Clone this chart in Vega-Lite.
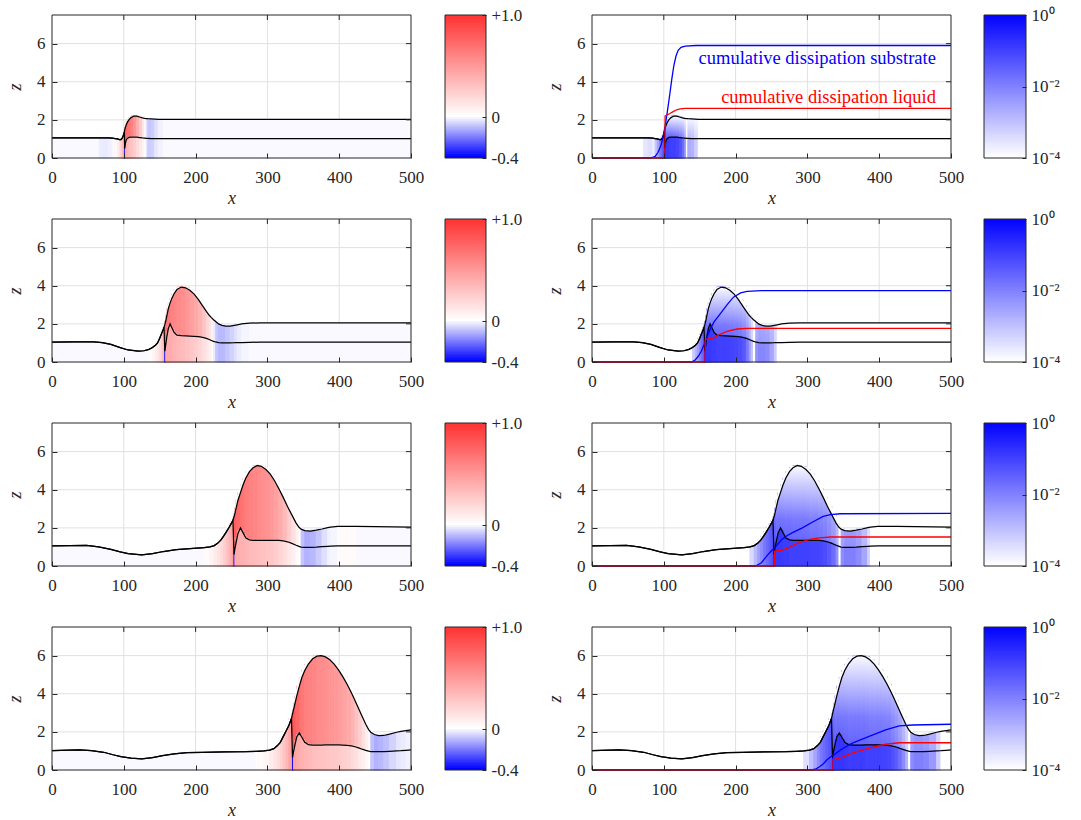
{
  "$schema": "https://vega.github.io/schema/vega-lite/v6.json",
  "background": "white",
  "padding": {"left": 6, "top": 6, "right": 5, "bottom": 5},
  "config": {
    "view": {"stroke": null},
    "axis": {"labelFont": "Liberation Serif", "labelFontSize": 17, "labelColor": "#262626", "titleFont": "Liberation Serif", "titleFontSize": 18, "titleFontStyle": "italic", "titleFontWeight": "normal", "titleColor": "#262626", "tickColor": "#262626", "grid": false, "domain": false},
    "axisBottom": {"tickSize": -5, "labelPadding": 16, "titlePadding": 4, "labelFlush": false},
    "axisLeft": {"tickSize": -5, "labelPadding": 12, "titlePadding": 12},
    "axisRight": {"tickSize": -4, "labelPadding": 9},
    "text": {"font": "Liberation Serif"}
  },
  "datasets": {
    "gx": [{"g": 100}, {"g": 200}, {"g": 300}, {"g": 400}],
    "gz": [{"g": 2}, {"g": 4}, {"g": 6}],
    "cbL": [{"c":-0.4},{"c":-0.38},{"c":-0.36},{"c":-0.34},{"c":-0.32},{"c":-0.3},{"c":-0.28},{"c":-0.26},{"c":-0.24},{"c":-0.22},{"c":-0.2},{"c":-0.18},{"c":-0.16},{"c":-0.14},{"c":-0.12},{"c":-0.1},{"c":-0.08},{"c":-0.06},{"c":-0.04},{"c":-0.02},{"c":0},{"c":0.02},{"c":0.04},{"c":0.06},{"c":0.08},{"c":0.1},{"c":0.12},{"c":0.14},{"c":0.16},{"c":0.18},{"c":0.2},{"c":0.22},{"c":0.24},{"c":0.26},{"c":0.28},{"c":0.3},{"c":0.32},{"c":0.34},{"c":0.36},{"c":0.38},{"c":0.4},{"c":0.42},{"c":0.44},{"c":0.46},{"c":0.48},{"c":0.5},{"c":0.52},{"c":0.54},{"c":0.56},{"c":0.58},{"c":0.6},{"c":0.62},{"c":0.64},{"c":0.66},{"c":0.68},{"c":0.7},{"c":0.72},{"c":0.74},{"c":0.76},{"c":0.78},{"c":0.8},{"c":0.82},{"c":0.84},{"c":0.86},{"c":0.88},{"c":0.9},{"c":0.92},{"c":0.94},{"c":0.96},{"c":0.98},{"c":1}],
    "cbR": [{"c":-4},{"c":-3.95},{"c":-3.9},{"c":-3.85},{"c":-3.8},{"c":-3.75},{"c":-3.7},{"c":-3.65},{"c":-3.6},{"c":-3.55},{"c":-3.5},{"c":-3.45},{"c":-3.4},{"c":-3.35},{"c":-3.3},{"c":-3.25},{"c":-3.2},{"c":-3.15},{"c":-3.1},{"c":-3.05},{"c":-3},{"c":-2.95},{"c":-2.9},{"c":-2.85},{"c":-2.8},{"c":-2.75},{"c":-2.7},{"c":-2.65},{"c":-2.6},{"c":-2.55},{"c":-2.5},{"c":-2.45},{"c":-2.4},{"c":-2.35},{"c":-2.3},{"c":-2.25},{"c":-2.2},{"c":-2.15},{"c":-2.1},{"c":-2.05},{"c":-2},{"c":-1.95},{"c":-1.9},{"c":-1.85},{"c":-1.8},{"c":-1.75},{"c":-1.7},{"c":-1.65},{"c":-1.6},{"c":-1.55},{"c":-1.5},{"c":-1.45},{"c":-1.4},{"c":-1.35},{"c":-1.3},{"c":-1.25},{"c":-1.2},{"c":-1.15},{"c":-1.1},{"c":-1.05},{"c":-1},{"c":-0.95},{"c":-0.9},{"c":-0.85},{"c":-0.8},{"c":-0.75},{"c":-0.7},{"c":-0.65},{"c":-0.6},{"c":-0.55},{"c":-0.5},{"c":-0.45},{"c":-0.4},{"c":-0.35},{"c":-0.3},{"c":-0.25},{"c":-0.2},{"c":-0.15},{"c":-0.1},{"c":-0.05},{"c":0}],
    "ann": [
      {"x": 479, "z": 5.22, "k": "s", "t": "cumulative dissipation substrate"},
      {"x": 479, "z": 3.22, "k": "l", "t": "cumulative dissipation liquid"}
    ],
    "cum": [
      {"s":1,"k":"s","x":0,"v":0},{"s":1,"k":"s","x":82,"v":0},{"s":1,"k":"s","x":88,"v":0.08},{"s":1,"k":"s","x":92,"v":0.3},{"s":1,"k":"s","x":96,"v":0.65},{"s":1,"k":"s","x":99,"v":1.1},{"s":1,"k":"s","x":102,"v":1.7},{"s":1,"k":"s","x":105,"v":2.45},{"s":1,"k":"s","x":108,"v":3.25},{"s":1,"k":"s","x":111,"v":4.1},{"s":1,"k":"s","x":114,"v":4.85},{"s":1,"k":"s","x":117,"v":5.35},{"s":1,"k":"s","x":120,"v":5.65},{"s":1,"k":"s","x":124,"v":5.8},{"s":1,"k":"s","x":130,"v":5.87},{"s":1,"k":"s","x":145,"v":5.9},{"s":1,"k":"s","x":500,"v":5.9},
      {"s":1,"k":"l","x":0,"v":0},{"s":1,"k":"l","x":101.6,"v":0},{"s":1,"k":"l","x":101.8,"v":2.2},{"s":1,"k":"l","x":104,"v":2.25},{"s":1,"k":"l","x":108,"v":2.32},{"s":1,"k":"l","x":113,"v":2.43},{"s":1,"k":"l","x":118,"v":2.53},{"s":1,"k":"l","x":123,"v":2.58},{"s":1,"k":"l","x":130,"v":2.6},{"s":1,"k":"l","x":500,"v":2.6},
      {"s":2,"k":"s","x":0,"v":0},{"s":2,"k":"s","x":139,"v":0},{"s":2,"k":"s","x":144,"v":0.12},{"s":2,"k":"s","x":148,"v":0.3},{"s":2,"k":"s","x":152,"v":0.55},{"s":2,"k":"s","x":156,"v":0.9},{"s":2,"k":"s","x":160,"v":1.3},{"s":2,"k":"s","x":165,"v":1.75},{"s":2,"k":"s","x":170,"v":2.1},{"s":2,"k":"s","x":178,"v":2.5},{"s":2,"k":"s","x":188,"v":3.0},{"s":2,"k":"s","x":197,"v":3.4},{"s":2,"k":"s","x":207,"v":3.62},{"s":2,"k":"s","x":216,"v":3.7},{"s":2,"k":"s","x":236,"v":3.74},{"s":2,"k":"s","x":500,"v":3.74},
      {"s":2,"k":"l","x":0,"v":0},{"s":2,"k":"l","x":157.5,"v":0},{"s":2,"k":"l","x":157.7,"v":1.18},{"s":2,"k":"l","x":160,"v":1.2},{"s":2,"k":"l","x":165,"v":1.22},{"s":2,"k":"l","x":170,"v":1.28},{"s":2,"k":"l","x":178,"v":1.44},{"s":2,"k":"l","x":188,"v":1.6},{"s":2,"k":"l","x":202,"v":1.73},{"s":2,"k":"l","x":216,"v":1.76},{"s":2,"k":"l","x":500,"v":1.76},
      {"s":3,"k":"s","x":0,"v":0},{"s":3,"k":"s","x":228,"v":0},{"s":3,"k":"s","x":236,"v":0.17},{"s":3,"k":"s","x":245,"v":0.6},{"s":3,"k":"s","x":250,"v":0.8},{"s":3,"k":"s","x":255,"v":0.98},{"s":3,"k":"s","x":264,"v":1.38},{"s":3,"k":"s","x":272,"v":1.6},{"s":3,"k":"s","x":280,"v":1.76},{"s":3,"k":"s","x":293,"v":2.0},{"s":3,"k":"s","x":308,"v":2.32},{"s":3,"k":"s","x":322,"v":2.6},{"s":3,"k":"s","x":332,"v":2.7},{"s":3,"k":"s","x":346,"v":2.74},{"s":3,"k":"s","x":500,"v":2.76},
      {"s":3,"k":"l","x":0,"v":0},{"s":3,"k":"l","x":253.8,"v":0},{"s":3,"k":"l","x":254,"v":0.78},{"s":3,"k":"l","x":264,"v":0.82},{"s":3,"k":"l","x":274,"v":0.96},{"s":3,"k":"l","x":288,"v":1.22},{"s":3,"k":"l","x":303,"v":1.4},{"s":3,"k":"l","x":317,"v":1.48},{"s":3,"k":"l","x":332,"v":1.52},{"s":3,"k":"l","x":500,"v":1.52},
      {"s":4,"k":"s","x":0,"v":0},{"s":4,"k":"s","x":306,"v":0},{"s":4,"k":"s","x":312,"v":0.06},{"s":4,"k":"s","x":317,"v":0.17},{"s":4,"k":"s","x":322,"v":0.32},{"s":4,"k":"s","x":327,"v":0.52},{"s":4,"k":"s","x":332,"v":0.68},{"s":4,"k":"s","x":337,"v":0.8},{"s":4,"k":"s","x":346,"v":1.05},{"s":4,"k":"s","x":361,"v":1.38},{"s":4,"k":"s","x":385,"v":1.75},{"s":4,"k":"s","x":409,"v":2.1},{"s":4,"k":"s","x":428,"v":2.31},{"s":4,"k":"s","x":447,"v":2.36},{"s":4,"k":"s","x":500,"v":2.4},
      {"s":4,"k":"l","x":0,"v":0},{"s":4,"k":"l","x":335.5,"v":0},{"s":4,"k":"l","x":335.7,"v":0.55},{"s":4,"k":"l","x":342,"v":0.6},{"s":4,"k":"l","x":351,"v":0.7},{"s":4,"k":"l","x":361,"v":0.87},{"s":4,"k":"l","x":385,"v":1.14},{"s":4,"k":"l","x":409,"v":1.35},{"s":4,"k":"l","x":428,"v":1.43},{"s":4,"k":"l","x":500,"v":1.43}
    ],
    "prof": [
      {"s":1,"x":0,"h":1.05,"b":1.05,"L":-0.01,"Ls":-0.01,"R":-5,"Rs":-5},
      {"s":1,"x":66,"h":1.05,"b":1.05,"L":-0.03,"Ls":-0.03,"R":-5,"Rs":-5},
      {"s":1,"x":72,"h":1.05,"b":1.05,"L":-0.035,"Ls":-0.035,"R":-3.6,"Rs":-3.6},
      {"s":1,"x":78,"h":1.05,"b":1.05,"L":-0.025,"Ls":-0.025,"R":-3.5,"Rs":-3.5},
      {"s":1,"x":84,"h":1.04,"b":1.04,"L":-0.01,"Ls":-0.01,"R":-3.7,"Rs":-3.7},
      {"s":1,"x":88,"h":1.02,"b":1.02,"L":0.03,"Ls":0.03,"R":-3.1,"Rs":-3.1},
      {"s":1,"x":91,"h":1.0,"b":1.0,"L":0.08,"Ls":0.08,"R":-2.6,"Rs":-2.6},
      {"s":1,"x":94,"h":0.97,"b":0.97,"L":0.15,"Ls":0.15,"R":-2.1,"Rs":-2.1},
      {"s":1,"x":96,"h":0.97,"b":0.97,"L":0.22,"Ls":0.22,"R":-1.8,"Rs":-1.8},
      {"s":1,"x":98,"h":1.05,"b":1.05,"L":0.3,"Ls":0.3,"R":-1.5,"Rs":-1.5},
      {"s":1,"x":99.5,"h":1.2,"b":1.2,"L":0.4,"Ls":0.4,"R":-1.3,"Rs":-1.3},
      {"s":1,"x":100.7,"h":1.36,"b":1.36,"L":0.5,"Ls":0.45,"R":-1.1,"Rs":-1.1},
      {"s":1,"x":101.3,"h":1.47,"b":0.5,"L":0.7,"Ls":-0.4,"R":-1.0,"Rs":-0.2},
      {"s":1,"x":102.3,"h":1.62,"b":0.78,"L":0.75,"Ls":0.4,"R":-1.1,"Rs":-0.8},
      {"s":1,"x":103.5,"h":1.75,"b":0.96,"L":0.72,"Ls":0.38,"R":-1.1,"Rs":-0.9},
      {"s":1,"x":105,"h":1.88,"b":1.03,"L":0.7,"Ls":0.35,"R":-1.15,"Rs":-0.9},
      {"s":1,"x":107,"h":2.0,"b":1.08,"L":0.66,"Ls":0.32,"R":-1.2,"Rs":-0.95},
      {"s":1,"x":110,"h":2.12,"b":1.1,"L":0.6,"Ls":0.28,"R":-1.2,"Rs":-1.0},
      {"s":1,"x":114,"h":2.2,"b":1.1,"L":0.5,"Ls":0.23,"R":-1.3,"Rs":-1.0},
      {"s":1,"x":118,"h":2.19,"b":1.09,"L":0.38,"Ls":0.17,"R":-1.4,"Rs":-1.1},
      {"s":1,"x":122,"h":2.15,"b":1.07,"L":0.25,"Ls":0.11,"R":-1.6,"Rs":-1.3},
      {"s":1,"x":126,"h":2.1,"b":1.05,"L":0.12,"Ls":0.06,"R":-1.9,"Rs":-1.7},
      {"s":1,"x":129,"h":2.08,"b":1.04,"L":0.04,"Ls":0.02,"R":-2.5,"Rs":-2.3},
      {"s":1,"x":131.5,"h":2.07,"b":1.03,"L":-0.05,"Ls":-0.04,"R":-5,"Rs":-5},
      {"s":1,"x":133.5,"h":2.06,"b":1.03,"L":-0.09,"Ls":-0.08,"R":-2.8,"Rs":-2.7},
      {"s":1,"x":138,"h":2.05,"b":1.02,"L":-0.08,"Ls":-0.07,"R":-2.9,"Rs":-2.8},
      {"s":1,"x":143,"h":2.04,"b":1.02,"L":-0.05,"Ls":-0.04,"R":-3.3,"Rs":-3.2},
      {"s":1,"x":148,"h":2.03,"b":1.02,"L":-0.02,"Ls":-0.02,"R":-5,"Rs":-5},
      {"s":1,"x":155,"h":2.02,"b":1.02,"L":-0.01,"Ls":-0.01,"R":-5,"Rs":-5},
      {"s":1,"x":500,"h":2.02,"b":1.02,"L":-0.01,"Ls":-0.01,"R":-5,"Rs":-5},

      {"s":2,"x":0,"h":1.04,"b":1.04,"L":-0.01,"Ls":-0.01,"R":-5,"Rs":-5},
      {"s":2,"x":30,"h":1.05,"b":1.05,"L":-0.01,"Ls":-0.01,"R":-5,"Rs":-5},
      {"s":2,"x":58,"h":1.06,"b":1.06,"L":-0.01,"Ls":-0.01,"R":-5,"Rs":-5},
      {"s":2,"x":70,"h":1.02,"b":1.02,"L":-0.01,"Ls":-0.01,"R":-5,"Rs":-5},
      {"s":2,"x":82,"h":0.92,"b":0.92,"L":-0.01,"Ls":-0.01,"R":-5,"Rs":-5},
      {"s":2,"x":95,"h":0.75,"b":0.75,"L":-0.01,"Ls":-0.01,"R":-5,"Rs":-5},
      {"s":2,"x":106,"h":0.63,"b":0.63,"L":-0.01,"Ls":-0.01,"R":-5,"Rs":-5},
      {"s":2,"x":120,"h":0.57,"b":0.57,"L":-0.01,"Ls":-0.01,"R":-5,"Rs":-5},
      {"s":2,"x":128,"h":0.59,"b":0.59,"L":-0.01,"Ls":-0.01,"R":-5,"Rs":-5},
      {"s":2,"x":135,"h":0.66,"b":0.66,"L":0.02,"Ls":0.02,"R":-5,"Rs":-5},
      {"s":2,"x":140,"h":0.76,"b":0.76,"L":0.05,"Ls":0.05,"R":-3.2,"Rs":-3.2},
      {"s":2,"x":144,"h":0.88,"b":0.88,"L":0.09,"Ls":0.09,"R":-2.8,"Rs":-2.8},
      {"s":2,"x":147,"h":1.0,"b":1.0,"L":0.13,"Ls":0.13,"R":-2.5,"Rs":-2.5},
      {"s":2,"x":150,"h":1.25,"b":1.25,"L":0.18,"Ls":0.18,"R":-2.1,"Rs":-2.1},
      {"s":2,"x":152.5,"h":1.48,"b":1.48,"L":0.24,"Ls":0.24,"R":-1.8,"Rs":-1.8},
      {"s":2,"x":154.5,"h":1.66,"b":1.66,"L":0.3,"Ls":0.3,"R":-1.6,"Rs":-1.6},
      {"s":2,"x":156,"h":1.82,"b":1.82,"L":0.36,"Ls":0.36,"R":-1.4,"Rs":-1.4},
      {"s":2,"x":157.2,"h":1.97,"b":0.57,"L":0.7,"Ls":-0.4,"R":-1.0,"Rs":-0.2},
      {"s":2,"x":158.4,"h":2.15,"b":0.9,"L":0.68,"Ls":0.4,"R":-1.2,"Rs":-0.8},
      {"s":2,"x":160,"h":2.45,"b":1.35,"L":0.66,"Ls":0.4,"R":-1.3,"Rs":-0.9},
      {"s":2,"x":162,"h":2.8,"b":1.75,"L":0.64,"Ls":0.4,"R":-1.3,"Rs":-0.9},
      {"s":2,"x":164.5,"h":3.1,"b":2.0,"L":0.62,"Ls":0.4,"R":-1.3,"Rs":-0.9},
      {"s":2,"x":167,"h":3.35,"b":1.8,"L":0.6,"Ls":0.38,"R":-1.3,"Rs":-0.95},
      {"s":2,"x":170,"h":3.58,"b":1.55,"L":0.58,"Ls":0.36,"R":-1.3,"Rs":-0.95},
      {"s":2,"x":174,"h":3.8,"b":1.41,"L":0.56,"Ls":0.34,"R":-1.35,"Rs":-1.0},
      {"s":2,"x":180,"h":3.93,"b":1.38,"L":0.54,"Ls":0.32,"R":-1.35,"Rs":-1.0},
      {"s":2,"x":186,"h":3.89,"b":1.37,"L":0.5,"Ls":0.3,"R":-1.4,"Rs":-1.0},
      {"s":2,"x":192,"h":3.76,"b":1.36,"L":0.46,"Ls":0.27,"R":-1.45,"Rs":-1.05},
      {"s":2,"x":198,"h":3.56,"b":1.35,"L":0.42,"Ls":0.24,"R":-1.5,"Rs":-1.1},
      {"s":2,"x":204,"h":3.27,"b":1.33,"L":0.36,"Ls":0.2,"R":-1.6,"Rs":-1.2},
      {"s":2,"x":210,"h":2.93,"b":1.29,"L":0.28,"Ls":0.15,"R":-1.8,"Rs":-1.4},
      {"s":2,"x":215,"h":2.65,"b":1.24,"L":0.2,"Ls":0.11,"R":-2.2,"Rs":-1.9},
      {"s":2,"x":219,"h":2.45,"b":1.18,"L":0.13,"Ls":0.07,"R":-2.7,"Rs":-2.5},
      {"s":2,"x":222,"h":2.33,"b":1.13,"L":0.06,"Ls":0.03,"R":-3.3,"Rs":-3.1},
      {"s":2,"x":225,"h":2.22,"b":1.08,"L":-0.03,"Ls":-0.03,"R":-5,"Rs":-5},
      {"s":2,"x":228,"h":2.12,"b":1.05,"L":-0.09,"Ls":-0.09,"R":-2.5,"Rs":-2.3},
      {"s":2,"x":232,"h":2.0,"b":1.02,"L":-0.11,"Ls":-0.11,"R":-2.3,"Rs":-2.1},
      {"s":2,"x":237,"h":1.92,"b":1.0,"L":-0.11,"Ls":-0.11,"R":-2.3,"Rs":-2.1},
      {"s":2,"x":242,"h":1.88,"b":1.0,"L":-0.09,"Ls":-0.09,"R":-2.4,"Rs":-2.2},
      {"s":2,"x":248,"h":1.88,"b":1.0,"L":-0.07,"Ls":-0.07,"R":-2.7,"Rs":-2.6},
      {"s":2,"x":254,"h":1.92,"b":1.01,"L":-0.05,"Ls":-0.05,"R":-3.3,"Rs":-3.2},
      {"s":2,"x":258,"h":1.95,"b":1.02,"L":-0.03,"Ls":-0.03,"R":-5,"Rs":-5},
      {"s":2,"x":264,"h":2.0,"b":1.02,"L":-0.015,"Ls":-0.015,"R":-5,"Rs":-5},
      {"s":2,"x":275,"h":2.04,"b":1.03,"L":-0.01,"Ls":-0.01,"R":-5,"Rs":-5},
      {"s":2,"x":290,"h":2.05,"b":1.04,"L":-0.01,"Ls":-0.01,"R":-5,"Rs":-5},
      {"s":2,"x":500,"h":2.05,"b":1.04,"L":-0.01,"Ls":-0.01,"R":-5,"Rs":-5},

      {"s":3,"x":0,"h":1.05,"b":1.05,"L":-0.01,"Ls":-0.01,"R":-5,"Rs":-5},
      {"s":3,"x":25,"h":1.07,"b":1.07,"L":-0.01,"Ls":-0.01,"R":-5,"Rs":-5},
      {"s":3,"x":48,"h":1.08,"b":1.08,"L":-0.01,"Ls":-0.01,"R":-5,"Rs":-5},
      {"s":3,"x":65,"h":1.0,"b":1.0,"L":-0.01,"Ls":-0.01,"R":-5,"Rs":-5},
      {"s":3,"x":82,"h":0.87,"b":0.87,"L":-0.01,"Ls":-0.01,"R":-5,"Rs":-5},
      {"s":3,"x":95,"h":0.74,"b":0.74,"L":-0.01,"Ls":-0.01,"R":-5,"Rs":-5},
      {"s":3,"x":106,"h":0.65,"b":0.65,"L":-0.01,"Ls":-0.01,"R":-5,"Rs":-5},
      {"s":3,"x":125,"h":0.59,"b":0.59,"L":-0.01,"Ls":-0.01,"R":-5,"Rs":-5},
      {"s":3,"x":140,"h":0.65,"b":0.65,"L":-0.01,"Ls":-0.01,"R":-5,"Rs":-5},
      {"s":3,"x":155,"h":0.76,"b":0.76,"L":-0.01,"Ls":-0.01,"R":-5,"Rs":-5},
      {"s":3,"x":173,"h":0.86,"b":0.86,"L":-0.01,"Ls":-0.01,"R":-5,"Rs":-5},
      {"s":3,"x":197,"h":0.92,"b":0.92,"L":-0.01,"Ls":-0.01,"R":-5,"Rs":-5},
      {"s":3,"x":212,"h":0.96,"b":0.96,"L":0.02,"Ls":0.02,"R":-5,"Rs":-5},
      {"s":3,"x":220,"h":1.0,"b":1.0,"L":0.06,"Ls":0.06,"R":-3.4,"Rs":-3.4},
      {"s":3,"x":226,"h":1.07,"b":1.07,"L":0.1,"Ls":0.1,"R":-2.9,"Rs":-2.9},
      {"s":3,"x":231,"h":1.2,"b":1.2,"L":0.14,"Ls":0.14,"R":-2.5,"Rs":-2.5},
      {"s":3,"x":235,"h":1.36,"b":1.36,"L":0.18,"Ls":0.18,"R":-2.2,"Rs":-2.2},
      {"s":3,"x":239,"h":1.57,"b":1.57,"L":0.23,"Ls":0.23,"R":-1.9,"Rs":-1.9},
      {"s":3,"x":243,"h":1.8,"b":1.8,"L":0.29,"Ls":0.29,"R":-1.7,"Rs":-1.7},
      {"s":3,"x":246.5,"h":2.02,"b":2.02,"L":0.35,"Ls":0.35,"R":-1.5,"Rs":-1.5},
      {"s":3,"x":249.5,"h":2.22,"b":2.22,"L":0.42,"Ls":0.42,"R":-1.35,"Rs":-1.35},
      {"s":3,"x":252,"h":2.4,"b":2.4,"L":0.5,"Ls":0.5,"R":-1.2,"Rs":-1.2},
      {"s":3,"x":253.5,"h":2.58,"b":0.6,"L":0.8,"Ls":-0.4,"R":-1.0,"Rs":-0.2},
      {"s":3,"x":254.7,"h":2.75,"b":0.9,"L":0.78,"Ls":0.42,"R":-1.2,"Rs":-0.8},
      {"s":3,"x":256.5,"h":3.05,"b":1.25,"L":0.74,"Ls":0.4,"R":-1.3,"Rs":-0.9},
      {"s":3,"x":259,"h":3.45,"b":1.7,"L":0.71,"Ls":0.39,"R":-1.3,"Rs":-0.9},
      {"s":3,"x":262.5,"h":3.85,"b":2.0,"L":0.68,"Ls":0.38,"R":-1.3,"Rs":-0.9},
      {"s":3,"x":266,"h":4.25,"b":1.75,"L":0.65,"Ls":0.37,"R":-1.3,"Rs":-0.95},
      {"s":3,"x":270,"h":4.62,"b":1.47,"L":0.62,"Ls":0.35,"R":-1.35,"Rs":-0.95},
      {"s":3,"x":275,"h":4.95,"b":1.37,"L":0.6,"Ls":0.33,"R":-1.35,"Rs":-1.0},
      {"s":3,"x":280,"h":5.15,"b":1.35,"L":0.58,"Ls":0.32,"R":-1.4,"Rs":-1.0},
      {"s":3,"x":286,"h":5.27,"b":1.35,"L":0.56,"Ls":0.31,"R":-1.4,"Rs":-1.0},
      {"s":3,"x":292,"h":5.22,"b":1.35,"L":0.54,"Ls":0.3,"R":-1.4,"Rs":-1.0},
      {"s":3,"x":298,"h":5.06,"b":1.35,"L":0.52,"Ls":0.28,"R":-1.45,"Rs":-1.0},
      {"s":3,"x":304,"h":4.82,"b":1.35,"L":0.49,"Ls":0.27,"R":-1.5,"Rs":-1.05},
      {"s":3,"x":310,"h":4.47,"b":1.35,"L":0.45,"Ls":0.24,"R":-1.5,"Rs":-1.05},
      {"s":3,"x":316,"h":4.05,"b":1.34,"L":0.4,"Ls":0.2,"R":-1.6,"Rs":-1.1},
      {"s":3,"x":322,"h":3.6,"b":1.32,"L":0.33,"Ls":0.16,"R":-1.7,"Rs":-1.2},
      {"s":3,"x":328,"h":3.12,"b":1.27,"L":0.24,"Ls":0.11,"R":-1.9,"Rs":-1.4},
      {"s":3,"x":334,"h":2.68,"b":1.19,"L":0.15,"Ls":0.07,"R":-2.2,"Rs":-1.7},
      {"s":3,"x":340,"h":2.25,"b":1.09,"L":0.07,"Ls":0.03,"R":-2.7,"Rs":-2.3},
      {"s":3,"x":344,"h":2.03,"b":1.03,"L":0.01,"Ls":0.0,"R":-5,"Rs":-5},
      {"s":3,"x":347,"h":1.93,"b":0.99,"L":-0.1,"Ls":-0.09,"R":-2.4,"Rs":-2.2},
      {"s":3,"x":352,"h":1.86,"b":0.98,"L":-0.13,"Ls":-0.12,"R":-2.2,"Rs":-2.0},
      {"s":3,"x":360,"h":1.83,"b":0.98,"L":-0.12,"Ls":-0.11,"R":-2.2,"Rs":-2.0},
      {"s":3,"x":368,"h":1.88,"b":0.99,"L":-0.09,"Ls":-0.08,"R":-2.4,"Rs":-2.2},
      {"s":3,"x":376,"h":1.94,"b":1.01,"L":-0.05,"Ls":-0.05,"R":-2.8,"Rs":-2.6},
      {"s":3,"x":384,"h":2.01,"b":1.03,"L":-0.02,"Ls":-0.02,"R":-3.4,"Rs":-3.3},
      {"s":3,"x":388,"h":2.04,"b":1.04,"L":-0.015,"Ls":-0.015,"R":-5,"Rs":-5},
      {"s":3,"x":398,"h":2.08,"b":1.05,"L":0.02,"Ls":0.02,"R":-5,"Rs":-5},
      {"s":3,"x":424,"h":2.08,"b":1.05,"L":-0.01,"Ls":-0.01,"R":-5,"Rs":-5},
      {"s":3,"x":500,"h":2.04,"b":1.05,"L":-0.01,"Ls":-0.01,"R":-5,"Rs":-5},

      {"s":4,"x":0,"h":1.01,"b":1.01,"L":-0.01,"Ls":-0.01,"R":-5,"Rs":-5},
      {"s":4,"x":38,"h":1.05,"b":1.05,"L":-0.01,"Ls":-0.01,"R":-5,"Rs":-5},
      {"s":4,"x":55,"h":1.02,"b":1.02,"L":-0.01,"Ls":-0.01,"R":-5,"Rs":-5},
      {"s":4,"x":72,"h":0.93,"b":0.93,"L":-0.01,"Ls":-0.01,"R":-5,"Rs":-5},
      {"s":4,"x":85,"h":0.8,"b":0.8,"L":-0.01,"Ls":-0.01,"R":-5,"Rs":-5},
      {"s":4,"x":96,"h":0.7,"b":0.7,"L":-0.01,"Ls":-0.01,"R":-5,"Rs":-5},
      {"s":4,"x":110,"h":0.62,"b":0.62,"L":-0.01,"Ls":-0.01,"R":-5,"Rs":-5},
      {"s":4,"x":125,"h":0.59,"b":0.59,"L":-0.01,"Ls":-0.01,"R":-5,"Rs":-5},
      {"s":4,"x":140,"h":0.65,"b":0.65,"L":-0.01,"Ls":-0.01,"R":-5,"Rs":-5},
      {"s":4,"x":154,"h":0.75,"b":0.75,"L":-0.01,"Ls":-0.01,"R":-5,"Rs":-5},
      {"s":4,"x":170,"h":0.84,"b":0.84,"L":-0.01,"Ls":-0.01,"R":-5,"Rs":-5},
      {"s":4,"x":188,"h":0.91,"b":0.91,"L":-0.01,"Ls":-0.01,"R":-5,"Rs":-5},
      {"s":4,"x":210,"h":0.93,"b":0.93,"L":-0.01,"Ls":-0.01,"R":-5,"Rs":-5},
      {"s":4,"x":240,"h":0.95,"b":0.95,"L":-0.01,"Ls":-0.01,"R":-5,"Rs":-5},
      {"s":4,"x":270,"h":0.96,"b":0.96,"L":-0.01,"Ls":-0.01,"R":-5,"Rs":-5},
      {"s":4,"x":285,"h":0.98,"b":0.98,"L":0.02,"Ls":0.02,"R":-5,"Rs":-5},
      {"s":4,"x":295,"h":1.0,"b":1.0,"L":0.05,"Ls":0.05,"R":-3.5,"Rs":-3.5},
      {"s":4,"x":303,"h":1.04,"b":1.04,"L":0.09,"Ls":0.09,"R":-3.0,"Rs":-3.0},
      {"s":4,"x":309,"h":1.12,"b":1.12,"L":0.13,"Ls":0.13,"R":-2.6,"Rs":-2.6},
      {"s":4,"x":314,"h":1.28,"b":1.28,"L":0.17,"Ls":0.17,"R":-2.2,"Rs":-2.2},
      {"s":4,"x":318,"h":1.45,"b":1.45,"L":0.22,"Ls":0.22,"R":-1.9,"Rs":-1.9},
      {"s":4,"x":322,"h":1.75,"b":1.75,"L":0.28,"Ls":0.28,"R":-1.7,"Rs":-1.7},
      {"s":4,"x":326,"h":2.05,"b":2.05,"L":0.35,"Ls":0.35,"R":-1.5,"Rs":-1.5},
      {"s":4,"x":330,"h":2.35,"b":2.35,"L":0.43,"Ls":0.43,"R":-1.35,"Rs":-1.35},
      {"s":4,"x":333.5,"h":2.7,"b":2.7,"L":0.5,"Ls":0.5,"R":-1.2,"Rs":-1.2},
      {"s":4,"x":335,"h":2.95,"b":0.65,"L":0.85,"Ls":-0.4,"R":-1.0,"Rs":-0.2},
      {"s":4,"x":336.3,"h":3.15,"b":0.95,"L":0.8,"Ls":0.45,"R":-1.2,"Rs":-0.8},
      {"s":4,"x":338.5,"h":3.5,"b":1.35,"L":0.76,"Ls":0.43,"R":-1.3,"Rs":-0.85},
      {"s":4,"x":341,"h":3.9,"b":1.75,"L":0.72,"Ls":0.41,"R":-1.3,"Rs":-0.85},
      {"s":4,"x":344.5,"h":4.4,"b":1.95,"L":0.68,"Ls":0.39,"R":-1.3,"Rs":-0.85},
      {"s":4,"x":348,"h":4.85,"b":1.72,"L":0.65,"Ls":0.37,"R":-1.3,"Rs":-0.85},
      {"s":4,"x":352,"h":5.22,"b":1.45,"L":0.62,"Ls":0.35,"R":-1.35,"Rs":-0.9},
      {"s":4,"x":357,"h":5.55,"b":1.33,"L":0.6,"Ls":0.33,"R":-1.4,"Rs":-0.95},
      {"s":4,"x":363,"h":5.83,"b":1.31,"L":0.58,"Ls":0.31,"R":-1.4,"Rs":-0.95},
      {"s":4,"x":369,"h":5.97,"b":1.31,"L":0.56,"Ls":0.3,"R":-1.4,"Rs":-0.95},
      {"s":4,"x":375,"h":6.0,"b":1.31,"L":0.55,"Ls":0.29,"R":-1.4,"Rs":-0.95},
      {"s":4,"x":381,"h":5.93,"b":1.32,"L":0.53,"Ls":0.28,"R":-1.45,"Rs":-1.0},
      {"s":4,"x":387,"h":5.78,"b":1.32,"L":0.51,"Ls":0.27,"R":-1.5,"Rs":-1.0},
      {"s":4,"x":393,"h":5.55,"b":1.32,"L":0.49,"Ls":0.26,"R":-1.5,"Rs":-1.0},
      {"s":4,"x":399,"h":5.25,"b":1.32,"L":0.47,"Ls":0.25,"R":-1.5,"Rs":-1.0},
      {"s":4,"x":405,"h":4.9,"b":1.31,"L":0.44,"Ls":0.23,"R":-1.55,"Rs":-1.05},
      {"s":4,"x":411,"h":4.5,"b":1.29,"L":0.41,"Ls":0.21,"R":-1.6,"Rs":-1.1},
      {"s":4,"x":417,"h":4.05,"b":1.26,"L":0.36,"Ls":0.18,"R":-1.8,"Rs":-1.25},
      {"s":4,"x":422,"h":3.65,"b":1.22,"L":0.3,"Ls":0.15,"R":-2.0,"Rs":-1.45},
      {"s":4,"x":427,"h":3.22,"b":1.16,"L":0.23,"Ls":0.11,"R":-2.3,"Rs":-1.75},
      {"s":4,"x":432,"h":2.8,"b":1.09,"L":0.15,"Ls":0.07,"R":-2.7,"Rs":-2.2},
      {"s":4,"x":437,"h":2.4,"b":1.03,"L":0.08,"Ls":0.03,"R":-3.2,"Rs":-2.8},
      {"s":4,"x":441,"h":2.12,"b":0.99,"L":0.02,"Ls":0.01,"R":-5,"Rs":-5},
      {"s":4,"x":444,"h":1.98,"b":0.97,"L":-0.1,"Ls":-0.09,"R":-2.4,"Rs":-2.2},
      {"s":4,"x":449,"h":1.86,"b":0.96,"L":-0.13,"Ls":-0.12,"R":-2.2,"Rs":-2.0},
      {"s":4,"x":455,"h":1.8,"b":0.96,"L":-0.12,"Ls":-0.11,"R":-2.2,"Rs":-2.0},
      {"s":4,"x":462,"h":1.81,"b":0.97,"L":-0.1,"Ls":-0.09,"R":-2.3,"Rs":-2.1},
      {"s":4,"x":470,"h":1.88,"b":0.98,"L":-0.07,"Ls":-0.06,"R":-2.6,"Rs":-2.4},
      {"s":4,"x":480,"h":1.98,"b":1.0,"L":-0.04,"Ls":-0.04,"R":-3.3,"Rs":-3.2},
      {"s":4,"x":486,"h":2.02,"b":1.01,"L":-0.03,"Ls":-0.03,"R":-5,"Rs":-5},
      {"s":4,"x":493,"h":2.06,"b":1.03,"L":-0.02,"Ls":-0.02,"R":-5,"Rs":-5},
      {"s":4,"x":500,"h":2.1,"b":1.05,"L":-0.01,"Ls":-0.01,"R":-5,"Rs":-5}
    ]
  },
  "concat": [
    {"width": 434, "height": 143, "resolve": {"scale": {"x": "independent", "y": "independent"}},
     "layer": [
      {"layer": [
        {"data": {"name": "gx"}, "mark": {"type": "rule", "color": "#e1e1e1", "strokeWidth": 1},
         "encoding": {"x": {"field": "g", "type": "quantitative", "scale": {"domain": [0, 500], "range": [0, 359], "nice": false, "zero": false},
           "axis": {"values": [0, 100, 200, 300, 400, 500], "title": "x", "zindex": 1}}}},
        {"data": {"name": "gz"}, "mark": {"type": "rule", "color": "#e1e1e1", "strokeWidth": 1},
         "encoding": {"y": {"field": "g", "type": "quantitative", "scale": {"domain": [0, 7.5], "nice": false, "zero": false},
           "axis": {"values": [0, 2, 4, 6], "title": "z", "zindex": 1}}, "x": {"datum": 0, "type": "quantitative"}, "x2": {"datum": 500}}},
        {"data": {"name": "prof"},
         "transform": [{"filter": "datum.s == 1"},
           {"window": [{"op": "lead", "field": "x", "as": "xn"}, {"op": "max", "field": "h", "as": "ht"}, {"op": "mean", "field": "b", "as": "bt"}], "sort": [{"field": "x"}], "frame": [0, 1]},
           {"window": [{"op": "max", "field": "h", "as": "hm"}], "sort": [{"field": "x"}], "frame": [-1, 1]}],
         "layer": [
          {"mark": {"type": "rect", "strokeWidth": 0.9},
           "encoding": {"x": {"field": "x", "type": "quantitative"}, "x2": {"field": "xn"}, "y": {"field": "ht", "type": "quantitative"}, "y2": {"datum": 0},
             "fill": {"field": "L", "type": "quantitative", "scale": {"domain": [-0.4, 0, 1], "range": ["#0000ff", "#ffffff", "#ff2f2f"], "interpolate": "rgb", "clamp": true}, "legend": null},
             "stroke": {"field": "L", "type": "quantitative", "scale": {"domain": [-0.4, 0, 1], "range": ["#0000ff", "#ffffff", "#ff2f2f"], "interpolate": "rgb", "clamp": true}, "legend": null}}},
          {"mark": {"type": "rect", "strokeWidth": 1.1},
           "encoding": {"x": {"field": "x", "type": "quantitative"}, "x2": {"field": "xn"}, "y": {"field": "bt", "type": "quantitative"}, "y2": {"datum": 0},
             "fill": {"field": "Ls", "type": "quantitative", "legend": null}, "stroke": {"field": "Ls", "type": "quantitative", "legend": null}}},
          {"mark": {"type": "area", "fill": "#ffffff"}, "encoding": {"x": {"field": "x", "type": "quantitative"}, "y": {"field": "h", "type": "quantitative"}, "y2": {"field": "hm"}}},
          {"mark": {"type": "line", "color": "#000000", "strokeWidth": 1.25}, "encoding": {"x": {"field": "x", "type": "quantitative"}, "y": {"field": "h", "type": "quantitative"}}},
          {"mark": {"type": "line", "color": "#000000", "strokeWidth": 1.25}, "encoding": {"x": {"field": "x", "type": "quantitative"}, "y": {"field": "b", "type": "quantitative"}}}
         ]},
        {"data": {"name": "gx"}, "mark": {"type": "rule", "color": "#262626", "strokeWidth": 1},
         "encoding": {"x": {"field": "g", "type": "quantitative"}, "y": {"datum": 7.5, "type": "quantitative"}, "y2": {"datum": 7.24}}},
        {"data": {"name": "gz"}, "mark": {"type": "rule", "color": "#262626", "strokeWidth": 1},
         "encoding": {"y": {"field": "g", "type": "quantitative"}, "x": {"datum": 500, "type": "quantitative"}, "x2": {"datum": 493}}},
        {"data": {"values": [{}]}, "mark": {"type": "rect", "fill": null, "stroke": "#262626", "strokeWidth": 1},
         "encoding": {"x": {"datum": 0, "type": "quantitative"}, "x2": {"datum": 500}, "y": {"datum": 0, "type": "quantitative"}, "y2": {"datum": 7.5}}}
      ]},
      {"layer": [
        {"data": {"name": "cbL"}, "transform": [{"window": [{"op": "lead", "field": "c", "param": 2, "as": "c2"}], "sort": [{"field": "c"}]}],
         "mark": {"type": "rect"},
         "encoding": {"x": {"datum": 0, "type": "quantitative", "scale": {"domain": [0, 1], "range": [393, 434]}, "axis": null}, "x2": {"datum": 1},
           "y": {"field": "c", "type": "quantitative", "scale": {"domain": [-0.4, 1], "nice": false, "zero": false},
             "axis": {"orient": "right", "values": [-0.4, 0, 1], "labelExpr": "datum.value > 0.5 ? '+1.0' : datum.value < -0.2 ? '-0.4' : '0'", "title": null, "zindex": 1}},
           "y2": {"field": "c2"},
           "fill": {"field": "c", "type": "quantitative", "scale": {"domain": [-0.4, 0, 1], "range": ["#0000ff", "#ffffff", "#ff2f2f"], "interpolate": "rgb", "clamp": true}, "legend": null}}},
        {"data": {"values": [{}]}, "mark": {"type": "rect", "fill": null, "stroke": "#262626", "strokeWidth": 1},
         "encoding": {"x": {"datum": 0, "type": "quantitative"}, "x2": {"datum": 1}, "y": {"datum": -0.4, "type": "quantitative"}, "y2": {"datum": 1}}}
      ]}
     ]},

    {"width": 434, "height": 143, "resolve": {"scale": {"x": "independent", "y": "independent"}},
     "layer": [
      {"layer": [
        {"data": {"name": "gx"}, "mark": {"type": "rule", "color": "#e1e1e1", "strokeWidth": 1},
         "encoding": {"x": {"field": "g", "type": "quantitative", "scale": {"domain": [0, 500], "range": [0, 359], "nice": false, "zero": false},
           "axis": {"values": [0, 100, 200, 300, 400, 500], "title": "x", "zindex": 1}}}},
        {"data": {"name": "gz"}, "mark": {"type": "rule", "color": "#e1e1e1", "strokeWidth": 1},
         "encoding": {"y": {"field": "g", "type": "quantitative", "scale": {"domain": [0, 7.5], "nice": false, "zero": false},
           "axis": {"values": [0, 2, 4, 6], "title": "z", "zindex": 1}}, "x": {"datum": 0, "type": "quantitative"}, "x2": {"datum": 500}}},
        {"data": {"name": "prof"},
         "transform": [{"filter": "datum.s == 1"},
           {"window": [{"op": "lead", "field": "x", "as": "xn"}, {"op": "max", "field": "h", "as": "ht"}, {"op": "mean", "field": "b", "as": "bt"}], "sort": [{"field": "x"}], "frame": [0, 1]},
           {"window": [{"op": "max", "field": "h", "as": "hm"}], "sort": [{"field": "x"}], "frame": [-1, 1]}],
         "layer": [
          {"mark": {"type": "rect", "strokeWidth": 0.9},
           "encoding": {"x": {"field": "x", "type": "quantitative"}, "x2": {"field": "xn"}, "y": {"field": "ht", "type": "quantitative"}, "y2": {"datum": 0},
             "fill": {"field": "R", "type": "quantitative", "scale": {"domain": [-4, 0], "range": ["#ffffff", "#0000ff"], "interpolate": "rgb", "clamp": true}, "legend": null},
             "stroke": {"field": "R", "type": "quantitative", "scale": {"domain": [-4, 0], "range": ["#ffffff", "#0000ff"], "interpolate": "rgb", "clamp": true}, "legend": null}}},
          {"mark": {"type": "rect", "strokeWidth": 1.1},
           "encoding": {"x": {"field": "x", "type": "quantitative"}, "x2": {"field": "xn"}, "y": {"field": "bt", "type": "quantitative"}, "y2": {"datum": 0},
             "fill": {"field": "Rs", "type": "quantitative", "legend": null}, "stroke": {"field": "Rs", "type": "quantitative", "legend": null}}},
          {"mark": {"type": "area", "fill": {"gradient": "linear", "x1": 0, "y1": 1, "x2": 0, "y2": 0, "stops": [{"offset": 0, "color": "rgba(255,255,255,0)"}, {"offset": 0.4, "color": "rgba(255,255,255,0.2)"}, {"offset": 1, "color": "rgba(255,255,255,0.97)"}]}},
           "encoding": {"x": {"field": "x", "type": "quantitative"}, "y": {"field": "h", "type": "quantitative"}, "y2": {"field": "b"}}},
          {"mark": {"type": "area", "fill": "#ffffff"}, "encoding": {"x": {"field": "x", "type": "quantitative"}, "y": {"field": "h", "type": "quantitative"}, "y2": {"field": "hm"}}},
          {"mark": {"type": "line", "color": "#000000", "strokeWidth": 1.25}, "encoding": {"x": {"field": "x", "type": "quantitative"}, "y": {"field": "h", "type": "quantitative"}}},
          {"mark": {"type": "line", "color": "#000000", "strokeWidth": 1.25}, "encoding": {"x": {"field": "x", "type": "quantitative"}, "y": {"field": "b", "type": "quantitative"}}}
         ]},
        {"data": {"name": "cum"}, "transform": [{"filter": "datum.s == 1"}], "mark": {"type": "line", "strokeWidth": 1.3},
         "encoding": {"x": {"field": "x", "type": "quantitative"}, "y": {"field": "v", "type": "quantitative"},
           "color": {"field": "k", "type": "nominal", "scale": {"domain": ["s", "l"], "range": ["#0000ff", "#ff0000"]}, "legend": null}}},
        {"data": {"name": "ann"}, "mark": {"type": "text", "align": "right", "baseline": "middle", "font": "Liberation Serif", "fontSize": 18.5},
         "encoding": {"x": {"field": "x", "type": "quantitative"}, "y": {"field": "z", "type": "quantitative"}, "text": {"field": "t", "type": "nominal"},
           "color": {"field": "k", "type": "nominal", "scale": {"domain": ["s", "l"], "range": ["#0000ff", "#ff0000"]}, "legend": null}}},
        {"data": {"name": "gx"}, "mark": {"type": "rule", "color": "#262626", "strokeWidth": 1},
         "encoding": {"x": {"field": "g", "type": "quantitative"}, "y": {"datum": 7.5, "type": "quantitative"}, "y2": {"datum": 7.24}}},
        {"data": {"name": "gz"}, "mark": {"type": "rule", "color": "#262626", "strokeWidth": 1},
         "encoding": {"y": {"field": "g", "type": "quantitative"}, "x": {"datum": 500, "type": "quantitative"}, "x2": {"datum": 493}}},
        {"data": {"values": [{}]}, "mark": {"type": "rect", "fill": null, "stroke": "#262626", "strokeWidth": 1},
         "encoding": {"x": {"datum": 0, "type": "quantitative"}, "x2": {"datum": 500}, "y": {"datum": 0, "type": "quantitative"}, "y2": {"datum": 7.5}}}
      ]},
      {"layer": [
        {"data": {"name": "cbR"}, "transform": [{"window": [{"op": "lead", "field": "c", "param": 2, "as": "c2"}], "sort": [{"field": "c"}]}],
         "mark": {"type": "rect"},
         "encoding": {"x": {"datum": 0, "type": "quantitative", "scale": {"domain": [0, 1], "range": [392, 434]}, "axis": null}, "x2": {"datum": 1},
           "y": {"field": "c", "type": "quantitative", "scale": {"domain": [-4, 0], "nice": false, "zero": false},
             "axis": {"orient": "right", "values": [-4, -2, 0], "labelExpr": "datum.value > -1 ? '10⁰' : datum.value > -3 ? '10⁻²' : '10⁻⁴'", "title": null, "zindex": 1}},
           "y2": {"field": "c2"},
           "fill": {"field": "c", "type": "quantitative", "scale": {"domain": [-4, 0], "range": ["#ffffff", "#0000ff"], "interpolate": "rgb", "clamp": true}, "legend": null}}},
        {"data": {"values": [{}]}, "mark": {"type": "rect", "fill": null, "stroke": "#262626", "strokeWidth": 1},
         "encoding": {"x": {"datum": 0, "type": "quantitative"}, "x2": {"datum": 1}, "y": {"datum": -4, "type": "quantitative"}, "y2": {"datum": 0}}}
      ]}
     ]},

    {"width": 434, "height": 143, "resolve": {"scale": {"x": "independent", "y": "independent"}},
     "layer": [
      {"layer": [
        {"data": {"name": "gx"}, "mark": {"type": "rule", "color": "#e1e1e1", "strokeWidth": 1},
         "encoding": {"x": {"field": "g", "type": "quantitative", "scale": {"domain": [0, 500], "range": [0, 359], "nice": false, "zero": false},
           "axis": {"values": [0, 100, 200, 300, 400, 500], "title": "x", "zindex": 1}}}},
        {"data": {"name": "gz"}, "mark": {"type": "rule", "color": "#e1e1e1", "strokeWidth": 1},
         "encoding": {"y": {"field": "g", "type": "quantitative", "scale": {"domain": [0, 7.5], "nice": false, "zero": false},
           "axis": {"values": [0, 2, 4, 6], "title": "z", "zindex": 1}}, "x": {"datum": 0, "type": "quantitative"}, "x2": {"datum": 500}}},
        {"data": {"name": "prof"},
         "transform": [{"filter": "datum.s == 2"},
           {"window": [{"op": "lead", "field": "x", "as": "xn"}, {"op": "max", "field": "h", "as": "ht"}, {"op": "mean", "field": "b", "as": "bt"}], "sort": [{"field": "x"}], "frame": [0, 1]},
           {"window": [{"op": "max", "field": "h", "as": "hm"}], "sort": [{"field": "x"}], "frame": [-1, 1]}],
         "layer": [
          {"mark": {"type": "rect", "strokeWidth": 0.9},
           "encoding": {"x": {"field": "x", "type": "quantitative"}, "x2": {"field": "xn"}, "y": {"field": "ht", "type": "quantitative"}, "y2": {"datum": 0},
             "fill": {"field": "L", "type": "quantitative", "scale": {"domain": [-0.4, 0, 1], "range": ["#0000ff", "#ffffff", "#ff2f2f"], "interpolate": "rgb", "clamp": true}, "legend": null},
             "stroke": {"field": "L", "type": "quantitative", "scale": {"domain": [-0.4, 0, 1], "range": ["#0000ff", "#ffffff", "#ff2f2f"], "interpolate": "rgb", "clamp": true}, "legend": null}}},
          {"mark": {"type": "rect", "strokeWidth": 1.1},
           "encoding": {"x": {"field": "x", "type": "quantitative"}, "x2": {"field": "xn"}, "y": {"field": "bt", "type": "quantitative"}, "y2": {"datum": 0},
             "fill": {"field": "Ls", "type": "quantitative", "legend": null}, "stroke": {"field": "Ls", "type": "quantitative", "legend": null}}},
          {"mark": {"type": "area", "fill": "#ffffff"}, "encoding": {"x": {"field": "x", "type": "quantitative"}, "y": {"field": "h", "type": "quantitative"}, "y2": {"field": "hm"}}},
          {"mark": {"type": "line", "color": "#000000", "strokeWidth": 1.25}, "encoding": {"x": {"field": "x", "type": "quantitative"}, "y": {"field": "h", "type": "quantitative"}}},
          {"mark": {"type": "line", "color": "#000000", "strokeWidth": 1.25}, "encoding": {"x": {"field": "x", "type": "quantitative"}, "y": {"field": "b", "type": "quantitative"}}}
         ]},
        {"data": {"name": "gx"}, "mark": {"type": "rule", "color": "#262626", "strokeWidth": 1},
         "encoding": {"x": {"field": "g", "type": "quantitative"}, "y": {"datum": 7.5, "type": "quantitative"}, "y2": {"datum": 7.24}}},
        {"data": {"name": "gz"}, "mark": {"type": "rule", "color": "#262626", "strokeWidth": 1},
         "encoding": {"y": {"field": "g", "type": "quantitative"}, "x": {"datum": 500, "type": "quantitative"}, "x2": {"datum": 493}}},
        {"data": {"values": [{}]}, "mark": {"type": "rect", "fill": null, "stroke": "#262626", "strokeWidth": 1},
         "encoding": {"x": {"datum": 0, "type": "quantitative"}, "x2": {"datum": 500}, "y": {"datum": 0, "type": "quantitative"}, "y2": {"datum": 7.5}}}
      ]},
      {"layer": [
        {"data": {"name": "cbL"}, "transform": [{"window": [{"op": "lead", "field": "c", "param": 2, "as": "c2"}], "sort": [{"field": "c"}]}],
         "mark": {"type": "rect"},
         "encoding": {"x": {"datum": 0, "type": "quantitative", "scale": {"domain": [0, 1], "range": [393, 434]}, "axis": null}, "x2": {"datum": 1},
           "y": {"field": "c", "type": "quantitative", "scale": {"domain": [-0.4, 1], "nice": false, "zero": false},
             "axis": {"orient": "right", "values": [-0.4, 0, 1], "labelExpr": "datum.value > 0.5 ? '+1.0' : datum.value < -0.2 ? '-0.4' : '0'", "title": null, "zindex": 1}},
           "y2": {"field": "c2"},
           "fill": {"field": "c", "type": "quantitative", "scale": {"domain": [-0.4, 0, 1], "range": ["#0000ff", "#ffffff", "#ff2f2f"], "interpolate": "rgb", "clamp": true}, "legend": null}}},
        {"data": {"values": [{}]}, "mark": {"type": "rect", "fill": null, "stroke": "#262626", "strokeWidth": 1},
         "encoding": {"x": {"datum": 0, "type": "quantitative"}, "x2": {"datum": 1}, "y": {"datum": -0.4, "type": "quantitative"}, "y2": {"datum": 1}}}
      ]}
     ]},

    {"width": 434, "height": 143, "resolve": {"scale": {"x": "independent", "y": "independent"}},
     "layer": [
      {"layer": [
        {"data": {"name": "gx"}, "mark": {"type": "rule", "color": "#e1e1e1", "strokeWidth": 1},
         "encoding": {"x": {"field": "g", "type": "quantitative", "scale": {"domain": [0, 500], "range": [0, 359], "nice": false, "zero": false},
           "axis": {"values": [0, 100, 200, 300, 400, 500], "title": "x", "zindex": 1}}}},
        {"data": {"name": "gz"}, "mark": {"type": "rule", "color": "#e1e1e1", "strokeWidth": 1},
         "encoding": {"y": {"field": "g", "type": "quantitative", "scale": {"domain": [0, 7.5], "nice": false, "zero": false},
           "axis": {"values": [0, 2, 4, 6], "title": "z", "zindex": 1}}, "x": {"datum": 0, "type": "quantitative"}, "x2": {"datum": 500}}},
        {"data": {"name": "prof"},
         "transform": [{"filter": "datum.s == 2"},
           {"window": [{"op": "lead", "field": "x", "as": "xn"}, {"op": "max", "field": "h", "as": "ht"}, {"op": "mean", "field": "b", "as": "bt"}], "sort": [{"field": "x"}], "frame": [0, 1]},
           {"window": [{"op": "max", "field": "h", "as": "hm"}], "sort": [{"field": "x"}], "frame": [-1, 1]}],
         "layer": [
          {"mark": {"type": "rect", "strokeWidth": 0.9},
           "encoding": {"x": {"field": "x", "type": "quantitative"}, "x2": {"field": "xn"}, "y": {"field": "ht", "type": "quantitative"}, "y2": {"datum": 0},
             "fill": {"field": "R", "type": "quantitative", "scale": {"domain": [-4, 0], "range": ["#ffffff", "#0000ff"], "interpolate": "rgb", "clamp": true}, "legend": null},
             "stroke": {"field": "R", "type": "quantitative", "scale": {"domain": [-4, 0], "range": ["#ffffff", "#0000ff"], "interpolate": "rgb", "clamp": true}, "legend": null}}},
          {"mark": {"type": "rect", "strokeWidth": 1.1},
           "encoding": {"x": {"field": "x", "type": "quantitative"}, "x2": {"field": "xn"}, "y": {"field": "bt", "type": "quantitative"}, "y2": {"datum": 0},
             "fill": {"field": "Rs", "type": "quantitative", "legend": null}, "stroke": {"field": "Rs", "type": "quantitative", "legend": null}}},
          {"mark": {"type": "area", "fill": {"gradient": "linear", "x1": 0, "y1": 1, "x2": 0, "y2": 0, "stops": [{"offset": 0, "color": "rgba(255,255,255,0)"}, {"offset": 0.4, "color": "rgba(255,255,255,0.2)"}, {"offset": 1, "color": "rgba(255,255,255,0.97)"}]}},
           "encoding": {"x": {"field": "x", "type": "quantitative"}, "y": {"field": "h", "type": "quantitative"}, "y2": {"field": "b"}}},
          {"mark": {"type": "area", "fill": "#ffffff"}, "encoding": {"x": {"field": "x", "type": "quantitative"}, "y": {"field": "h", "type": "quantitative"}, "y2": {"field": "hm"}}},
          {"mark": {"type": "line", "color": "#000000", "strokeWidth": 1.25}, "encoding": {"x": {"field": "x", "type": "quantitative"}, "y": {"field": "h", "type": "quantitative"}}},
          {"mark": {"type": "line", "color": "#000000", "strokeWidth": 1.25}, "encoding": {"x": {"field": "x", "type": "quantitative"}, "y": {"field": "b", "type": "quantitative"}}}
         ]},
        {"data": {"name": "cum"}, "transform": [{"filter": "datum.s == 2"}], "mark": {"type": "line", "strokeWidth": 1.3},
         "encoding": {"x": {"field": "x", "type": "quantitative"}, "y": {"field": "v", "type": "quantitative"},
           "color": {"field": "k", "type": "nominal", "scale": {"domain": ["s", "l"], "range": ["#0000ff", "#ff0000"]}, "legend": null}}},
        {"data": {"name": "gx"}, "mark": {"type": "rule", "color": "#262626", "strokeWidth": 1},
         "encoding": {"x": {"field": "g", "type": "quantitative"}, "y": {"datum": 7.5, "type": "quantitative"}, "y2": {"datum": 7.24}}},
        {"data": {"name": "gz"}, "mark": {"type": "rule", "color": "#262626", "strokeWidth": 1},
         "encoding": {"y": {"field": "g", "type": "quantitative"}, "x": {"datum": 500, "type": "quantitative"}, "x2": {"datum": 493}}},
        {"data": {"values": [{}]}, "mark": {"type": "rect", "fill": null, "stroke": "#262626", "strokeWidth": 1},
         "encoding": {"x": {"datum": 0, "type": "quantitative"}, "x2": {"datum": 500}, "y": {"datum": 0, "type": "quantitative"}, "y2": {"datum": 7.5}}}
      ]},
      {"layer": [
        {"data": {"name": "cbR"}, "transform": [{"window": [{"op": "lead", "field": "c", "param": 2, "as": "c2"}], "sort": [{"field": "c"}]}],
         "mark": {"type": "rect"},
         "encoding": {"x": {"datum": 0, "type": "quantitative", "scale": {"domain": [0, 1], "range": [392, 434]}, "axis": null}, "x2": {"datum": 1},
           "y": {"field": "c", "type": "quantitative", "scale": {"domain": [-4, 0], "nice": false, "zero": false},
             "axis": {"orient": "right", "values": [-4, -2, 0], "labelExpr": "datum.value > -1 ? '10⁰' : datum.value > -3 ? '10⁻²' : '10⁻⁴'", "title": null, "zindex": 1}},
           "y2": {"field": "c2"},
           "fill": {"field": "c", "type": "quantitative", "scale": {"domain": [-4, 0], "range": ["#ffffff", "#0000ff"], "interpolate": "rgb", "clamp": true}, "legend": null}}},
        {"data": {"values": [{}]}, "mark": {"type": "rect", "fill": null, "stroke": "#262626", "strokeWidth": 1},
         "encoding": {"x": {"datum": 0, "type": "quantitative"}, "x2": {"datum": 1}, "y": {"datum": -4, "type": "quantitative"}, "y2": {"datum": 0}}}
      ]}
     ]},

    {"width": 434, "height": 143, "resolve": {"scale": {"x": "independent", "y": "independent"}},
     "layer": [
      {"layer": [
        {"data": {"name": "gx"}, "mark": {"type": "rule", "color": "#e1e1e1", "strokeWidth": 1},
         "encoding": {"x": {"field": "g", "type": "quantitative", "scale": {"domain": [0, 500], "range": [0, 359], "nice": false, "zero": false},
           "axis": {"values": [0, 100, 200, 300, 400, 500], "title": "x", "zindex": 1}}}},
        {"data": {"name": "gz"}, "mark": {"type": "rule", "color": "#e1e1e1", "strokeWidth": 1},
         "encoding": {"y": {"field": "g", "type": "quantitative", "scale": {"domain": [0, 7.5], "nice": false, "zero": false},
           "axis": {"values": [0, 2, 4, 6], "title": "z", "zindex": 1}}, "x": {"datum": 0, "type": "quantitative"}, "x2": {"datum": 500}}},
        {"data": {"name": "prof"},
         "transform": [{"filter": "datum.s == 3"},
           {"window": [{"op": "lead", "field": "x", "as": "xn"}, {"op": "max", "field": "h", "as": "ht"}, {"op": "mean", "field": "b", "as": "bt"}], "sort": [{"field": "x"}], "frame": [0, 1]},
           {"window": [{"op": "max", "field": "h", "as": "hm"}], "sort": [{"field": "x"}], "frame": [-1, 1]}],
         "layer": [
          {"mark": {"type": "rect", "strokeWidth": 0.9},
           "encoding": {"x": {"field": "x", "type": "quantitative"}, "x2": {"field": "xn"}, "y": {"field": "ht", "type": "quantitative"}, "y2": {"datum": 0},
             "fill": {"field": "L", "type": "quantitative", "scale": {"domain": [-0.4, 0, 1], "range": ["#0000ff", "#ffffff", "#ff2f2f"], "interpolate": "rgb", "clamp": true}, "legend": null},
             "stroke": {"field": "L", "type": "quantitative", "scale": {"domain": [-0.4, 0, 1], "range": ["#0000ff", "#ffffff", "#ff2f2f"], "interpolate": "rgb", "clamp": true}, "legend": null}}},
          {"mark": {"type": "rect", "strokeWidth": 1.1},
           "encoding": {"x": {"field": "x", "type": "quantitative"}, "x2": {"field": "xn"}, "y": {"field": "bt", "type": "quantitative"}, "y2": {"datum": 0},
             "fill": {"field": "Ls", "type": "quantitative", "legend": null}, "stroke": {"field": "Ls", "type": "quantitative", "legend": null}}},
          {"mark": {"type": "area", "fill": "#ffffff"}, "encoding": {"x": {"field": "x", "type": "quantitative"}, "y": {"field": "h", "type": "quantitative"}, "y2": {"field": "hm"}}},
          {"mark": {"type": "line", "color": "#000000", "strokeWidth": 1.25}, "encoding": {"x": {"field": "x", "type": "quantitative"}, "y": {"field": "h", "type": "quantitative"}}},
          {"mark": {"type": "line", "color": "#000000", "strokeWidth": 1.25}, "encoding": {"x": {"field": "x", "type": "quantitative"}, "y": {"field": "b", "type": "quantitative"}}}
         ]},
        {"data": {"name": "gx"}, "mark": {"type": "rule", "color": "#262626", "strokeWidth": 1},
         "encoding": {"x": {"field": "g", "type": "quantitative"}, "y": {"datum": 7.5, "type": "quantitative"}, "y2": {"datum": 7.24}}},
        {"data": {"name": "gz"}, "mark": {"type": "rule", "color": "#262626", "strokeWidth": 1},
         "encoding": {"y": {"field": "g", "type": "quantitative"}, "x": {"datum": 500, "type": "quantitative"}, "x2": {"datum": 493}}},
        {"data": {"values": [{}]}, "mark": {"type": "rect", "fill": null, "stroke": "#262626", "strokeWidth": 1},
         "encoding": {"x": {"datum": 0, "type": "quantitative"}, "x2": {"datum": 500}, "y": {"datum": 0, "type": "quantitative"}, "y2": {"datum": 7.5}}}
      ]},
      {"layer": [
        {"data": {"name": "cbL"}, "transform": [{"window": [{"op": "lead", "field": "c", "param": 2, "as": "c2"}], "sort": [{"field": "c"}]}],
         "mark": {"type": "rect"},
         "encoding": {"x": {"datum": 0, "type": "quantitative", "scale": {"domain": [0, 1], "range": [393, 434]}, "axis": null}, "x2": {"datum": 1},
           "y": {"field": "c", "type": "quantitative", "scale": {"domain": [-0.4, 1], "nice": false, "zero": false},
             "axis": {"orient": "right", "values": [-0.4, 0, 1], "labelExpr": "datum.value > 0.5 ? '+1.0' : datum.value < -0.2 ? '-0.4' : '0'", "title": null, "zindex": 1}},
           "y2": {"field": "c2"},
           "fill": {"field": "c", "type": "quantitative", "scale": {"domain": [-0.4, 0, 1], "range": ["#0000ff", "#ffffff", "#ff2f2f"], "interpolate": "rgb", "clamp": true}, "legend": null}}},
        {"data": {"values": [{}]}, "mark": {"type": "rect", "fill": null, "stroke": "#262626", "strokeWidth": 1},
         "encoding": {"x": {"datum": 0, "type": "quantitative"}, "x2": {"datum": 1}, "y": {"datum": -0.4, "type": "quantitative"}, "y2": {"datum": 1}}}
      ]}
     ]},

    {"width": 434, "height": 143, "resolve": {"scale": {"x": "independent", "y": "independent"}},
     "layer": [
      {"layer": [
        {"data": {"name": "gx"}, "mark": {"type": "rule", "color": "#e1e1e1", "strokeWidth": 1},
         "encoding": {"x": {"field": "g", "type": "quantitative", "scale": {"domain": [0, 500], "range": [0, 359], "nice": false, "zero": false},
           "axis": {"values": [0, 100, 200, 300, 400, 500], "title": "x", "zindex": 1}}}},
        {"data": {"name": "gz"}, "mark": {"type": "rule", "color": "#e1e1e1", "strokeWidth": 1},
         "encoding": {"y": {"field": "g", "type": "quantitative", "scale": {"domain": [0, 7.5], "nice": false, "zero": false},
           "axis": {"values": [0, 2, 4, 6], "title": "z", "zindex": 1}}, "x": {"datum": 0, "type": "quantitative"}, "x2": {"datum": 500}}},
        {"data": {"name": "prof"},
         "transform": [{"filter": "datum.s == 3"},
           {"window": [{"op": "lead", "field": "x", "as": "xn"}, {"op": "max", "field": "h", "as": "ht"}, {"op": "mean", "field": "b", "as": "bt"}], "sort": [{"field": "x"}], "frame": [0, 1]},
           {"window": [{"op": "max", "field": "h", "as": "hm"}], "sort": [{"field": "x"}], "frame": [-1, 1]}],
         "layer": [
          {"mark": {"type": "rect", "strokeWidth": 0.9},
           "encoding": {"x": {"field": "x", "type": "quantitative"}, "x2": {"field": "xn"}, "y": {"field": "ht", "type": "quantitative"}, "y2": {"datum": 0},
             "fill": {"field": "R", "type": "quantitative", "scale": {"domain": [-4, 0], "range": ["#ffffff", "#0000ff"], "interpolate": "rgb", "clamp": true}, "legend": null},
             "stroke": {"field": "R", "type": "quantitative", "scale": {"domain": [-4, 0], "range": ["#ffffff", "#0000ff"], "interpolate": "rgb", "clamp": true}, "legend": null}}},
          {"mark": {"type": "rect", "strokeWidth": 1.1},
           "encoding": {"x": {"field": "x", "type": "quantitative"}, "x2": {"field": "xn"}, "y": {"field": "bt", "type": "quantitative"}, "y2": {"datum": 0},
             "fill": {"field": "Rs", "type": "quantitative", "legend": null}, "stroke": {"field": "Rs", "type": "quantitative", "legend": null}}},
          {"mark": {"type": "area", "fill": {"gradient": "linear", "x1": 0, "y1": 1, "x2": 0, "y2": 0, "stops": [{"offset": 0, "color": "rgba(255,255,255,0)"}, {"offset": 0.4, "color": "rgba(255,255,255,0.2)"}, {"offset": 1, "color": "rgba(255,255,255,0.97)"}]}},
           "encoding": {"x": {"field": "x", "type": "quantitative"}, "y": {"field": "h", "type": "quantitative"}, "y2": {"field": "b"}}},
          {"mark": {"type": "area", "fill": "#ffffff"}, "encoding": {"x": {"field": "x", "type": "quantitative"}, "y": {"field": "h", "type": "quantitative"}, "y2": {"field": "hm"}}},
          {"mark": {"type": "line", "color": "#000000", "strokeWidth": 1.25}, "encoding": {"x": {"field": "x", "type": "quantitative"}, "y": {"field": "h", "type": "quantitative"}}},
          {"mark": {"type": "line", "color": "#000000", "strokeWidth": 1.25}, "encoding": {"x": {"field": "x", "type": "quantitative"}, "y": {"field": "b", "type": "quantitative"}}}
         ]},
        {"data": {"name": "cum"}, "transform": [{"filter": "datum.s == 3"}], "mark": {"type": "line", "strokeWidth": 1.3},
         "encoding": {"x": {"field": "x", "type": "quantitative"}, "y": {"field": "v", "type": "quantitative"},
           "color": {"field": "k", "type": "nominal", "scale": {"domain": ["s", "l"], "range": ["#0000ff", "#ff0000"]}, "legend": null}}},
        {"data": {"name": "gx"}, "mark": {"type": "rule", "color": "#262626", "strokeWidth": 1},
         "encoding": {"x": {"field": "g", "type": "quantitative"}, "y": {"datum": 7.5, "type": "quantitative"}, "y2": {"datum": 7.24}}},
        {"data": {"name": "gz"}, "mark": {"type": "rule", "color": "#262626", "strokeWidth": 1},
         "encoding": {"y": {"field": "g", "type": "quantitative"}, "x": {"datum": 500, "type": "quantitative"}, "x2": {"datum": 493}}},
        {"data": {"values": [{}]}, "mark": {"type": "rect", "fill": null, "stroke": "#262626", "strokeWidth": 1},
         "encoding": {"x": {"datum": 0, "type": "quantitative"}, "x2": {"datum": 500}, "y": {"datum": 0, "type": "quantitative"}, "y2": {"datum": 7.5}}}
      ]},
      {"layer": [
        {"data": {"name": "cbR"}, "transform": [{"window": [{"op": "lead", "field": "c", "param": 2, "as": "c2"}], "sort": [{"field": "c"}]}],
         "mark": {"type": "rect"},
         "encoding": {"x": {"datum": 0, "type": "quantitative", "scale": {"domain": [0, 1], "range": [392, 434]}, "axis": null}, "x2": {"datum": 1},
           "y": {"field": "c", "type": "quantitative", "scale": {"domain": [-4, 0], "nice": false, "zero": false},
             "axis": {"orient": "right", "values": [-4, -2, 0], "labelExpr": "datum.value > -1 ? '10⁰' : datum.value > -3 ? '10⁻²' : '10⁻⁴'", "title": null, "zindex": 1}},
           "y2": {"field": "c2"},
           "fill": {"field": "c", "type": "quantitative", "scale": {"domain": [-4, 0], "range": ["#ffffff", "#0000ff"], "interpolate": "rgb", "clamp": true}, "legend": null}}},
        {"data": {"values": [{}]}, "mark": {"type": "rect", "fill": null, "stroke": "#262626", "strokeWidth": 1},
         "encoding": {"x": {"datum": 0, "type": "quantitative"}, "x2": {"datum": 1}, "y": {"datum": -4, "type": "quantitative"}, "y2": {"datum": 0}}}
      ]}
     ]},

    {"width": 434, "height": 143, "resolve": {"scale": {"x": "independent", "y": "independent"}},
     "layer": [
      {"layer": [
        {"data": {"name": "gx"}, "mark": {"type": "rule", "color": "#e1e1e1", "strokeWidth": 1},
         "encoding": {"x": {"field": "g", "type": "quantitative", "scale": {"domain": [0, 500], "range": [0, 359], "nice": false, "zero": false},
           "axis": {"values": [0, 100, 200, 300, 400, 500], "title": "x", "zindex": 1}}}},
        {"data": {"name": "gz"}, "mark": {"type": "rule", "color": "#e1e1e1", "strokeWidth": 1},
         "encoding": {"y": {"field": "g", "type": "quantitative", "scale": {"domain": [0, 7.5], "nice": false, "zero": false},
           "axis": {"values": [0, 2, 4, 6], "title": "z", "zindex": 1}}, "x": {"datum": 0, "type": "quantitative"}, "x2": {"datum": 500}}},
        {"data": {"name": "prof"},
         "transform": [{"filter": "datum.s == 4"},
           {"window": [{"op": "lead", "field": "x", "as": "xn"}, {"op": "max", "field": "h", "as": "ht"}, {"op": "mean", "field": "b", "as": "bt"}], "sort": [{"field": "x"}], "frame": [0, 1]},
           {"window": [{"op": "max", "field": "h", "as": "hm"}], "sort": [{"field": "x"}], "frame": [-1, 1]}],
         "layer": [
          {"mark": {"type": "rect", "strokeWidth": 0.9},
           "encoding": {"x": {"field": "x", "type": "quantitative"}, "x2": {"field": "xn"}, "y": {"field": "ht", "type": "quantitative"}, "y2": {"datum": 0},
             "fill": {"field": "L", "type": "quantitative", "scale": {"domain": [-0.4, 0, 1], "range": ["#0000ff", "#ffffff", "#ff2f2f"], "interpolate": "rgb", "clamp": true}, "legend": null},
             "stroke": {"field": "L", "type": "quantitative", "scale": {"domain": [-0.4, 0, 1], "range": ["#0000ff", "#ffffff", "#ff2f2f"], "interpolate": "rgb", "clamp": true}, "legend": null}}},
          {"mark": {"type": "rect", "strokeWidth": 1.1},
           "encoding": {"x": {"field": "x", "type": "quantitative"}, "x2": {"field": "xn"}, "y": {"field": "bt", "type": "quantitative"}, "y2": {"datum": 0},
             "fill": {"field": "Ls", "type": "quantitative", "legend": null}, "stroke": {"field": "Ls", "type": "quantitative", "legend": null}}},
          {"mark": {"type": "area", "fill": "#ffffff"}, "encoding": {"x": {"field": "x", "type": "quantitative"}, "y": {"field": "h", "type": "quantitative"}, "y2": {"field": "hm"}}},
          {"mark": {"type": "line", "color": "#000000", "strokeWidth": 1.25}, "encoding": {"x": {"field": "x", "type": "quantitative"}, "y": {"field": "h", "type": "quantitative"}}},
          {"mark": {"type": "line", "color": "#000000", "strokeWidth": 1.25}, "encoding": {"x": {"field": "x", "type": "quantitative"}, "y": {"field": "b", "type": "quantitative"}}}
         ]},
        {"data": {"name": "gx"}, "mark": {"type": "rule", "color": "#262626", "strokeWidth": 1},
         "encoding": {"x": {"field": "g", "type": "quantitative"}, "y": {"datum": 7.5, "type": "quantitative"}, "y2": {"datum": 7.24}}},
        {"data": {"name": "gz"}, "mark": {"type": "rule", "color": "#262626", "strokeWidth": 1},
         "encoding": {"y": {"field": "g", "type": "quantitative"}, "x": {"datum": 500, "type": "quantitative"}, "x2": {"datum": 493}}},
        {"data": {"values": [{}]}, "mark": {"type": "rect", "fill": null, "stroke": "#262626", "strokeWidth": 1},
         "encoding": {"x": {"datum": 0, "type": "quantitative"}, "x2": {"datum": 500}, "y": {"datum": 0, "type": "quantitative"}, "y2": {"datum": 7.5}}}
      ]},
      {"layer": [
        {"data": {"name": "cbL"}, "transform": [{"window": [{"op": "lead", "field": "c", "param": 2, "as": "c2"}], "sort": [{"field": "c"}]}],
         "mark": {"type": "rect"},
         "encoding": {"x": {"datum": 0, "type": "quantitative", "scale": {"domain": [0, 1], "range": [393, 434]}, "axis": null}, "x2": {"datum": 1},
           "y": {"field": "c", "type": "quantitative", "scale": {"domain": [-0.4, 1], "nice": false, "zero": false},
             "axis": {"orient": "right", "values": [-0.4, 0, 1], "labelExpr": "datum.value > 0.5 ? '+1.0' : datum.value < -0.2 ? '-0.4' : '0'", "title": null, "zindex": 1}},
           "y2": {"field": "c2"},
           "fill": {"field": "c", "type": "quantitative", "scale": {"domain": [-0.4, 0, 1], "range": ["#0000ff", "#ffffff", "#ff2f2f"], "interpolate": "rgb", "clamp": true}, "legend": null}}},
        {"data": {"values": [{}]}, "mark": {"type": "rect", "fill": null, "stroke": "#262626", "strokeWidth": 1},
         "encoding": {"x": {"datum": 0, "type": "quantitative"}, "x2": {"datum": 1}, "y": {"datum": -0.4, "type": "quantitative"}, "y2": {"datum": 1}}}
      ]}
     ]},

    {"width": 434, "height": 143, "resolve": {"scale": {"x": "independent", "y": "independent"}},
     "layer": [
      {"layer": [
        {"data": {"name": "gx"}, "mark": {"type": "rule", "color": "#e1e1e1", "strokeWidth": 1},
         "encoding": {"x": {"field": "g", "type": "quantitative", "scale": {"domain": [0, 500], "range": [0, 359], "nice": false, "zero": false},
           "axis": {"values": [0, 100, 200, 300, 400, 500], "title": "x", "zindex": 1}}}},
        {"data": {"name": "gz"}, "mark": {"type": "rule", "color": "#e1e1e1", "strokeWidth": 1},
         "encoding": {"y": {"field": "g", "type": "quantitative", "scale": {"domain": [0, 7.5], "nice": false, "zero": false},
           "axis": {"values": [0, 2, 4, 6], "title": "z", "zindex": 1}}, "x": {"datum": 0, "type": "quantitative"}, "x2": {"datum": 500}}},
        {"data": {"name": "prof"},
         "transform": [{"filter": "datum.s == 4"},
           {"window": [{"op": "lead", "field": "x", "as": "xn"}, {"op": "max", "field": "h", "as": "ht"}, {"op": "mean", "field": "b", "as": "bt"}], "sort": [{"field": "x"}], "frame": [0, 1]},
           {"window": [{"op": "max", "field": "h", "as": "hm"}], "sort": [{"field": "x"}], "frame": [-1, 1]}],
         "layer": [
          {"mark": {"type": "rect", "strokeWidth": 0.9},
           "encoding": {"x": {"field": "x", "type": "quantitative"}, "x2": {"field": "xn"}, "y": {"field": "ht", "type": "quantitative"}, "y2": {"datum": 0},
             "fill": {"field": "R", "type": "quantitative", "scale": {"domain": [-4, 0], "range": ["#ffffff", "#0000ff"], "interpolate": "rgb", "clamp": true}, "legend": null},
             "stroke": {"field": "R", "type": "quantitative", "scale": {"domain": [-4, 0], "range": ["#ffffff", "#0000ff"], "interpolate": "rgb", "clamp": true}, "legend": null}}},
          {"mark": {"type": "rect", "strokeWidth": 1.1},
           "encoding": {"x": {"field": "x", "type": "quantitative"}, "x2": {"field": "xn"}, "y": {"field": "bt", "type": "quantitative"}, "y2": {"datum": 0},
             "fill": {"field": "Rs", "type": "quantitative", "legend": null}, "stroke": {"field": "Rs", "type": "quantitative", "legend": null}}},
          {"mark": {"type": "area", "fill": {"gradient": "linear", "x1": 0, "y1": 1, "x2": 0, "y2": 0, "stops": [{"offset": 0, "color": "rgba(255,255,255,0)"}, {"offset": 0.4, "color": "rgba(255,255,255,0.2)"}, {"offset": 1, "color": "rgba(255,255,255,0.97)"}]}},
           "encoding": {"x": {"field": "x", "type": "quantitative"}, "y": {"field": "h", "type": "quantitative"}, "y2": {"field": "b"}}},
          {"mark": {"type": "area", "fill": "#ffffff"}, "encoding": {"x": {"field": "x", "type": "quantitative"}, "y": {"field": "h", "type": "quantitative"}, "y2": {"field": "hm"}}},
          {"mark": {"type": "line", "color": "#000000", "strokeWidth": 1.25}, "encoding": {"x": {"field": "x", "type": "quantitative"}, "y": {"field": "h", "type": "quantitative"}}},
          {"mark": {"type": "line", "color": "#000000", "strokeWidth": 1.25}, "encoding": {"x": {"field": "x", "type": "quantitative"}, "y": {"field": "b", "type": "quantitative"}}}
         ]},
        {"data": {"name": "cum"}, "transform": [{"filter": "datum.s == 4"}], "mark": {"type": "line", "strokeWidth": 1.3},
         "encoding": {"x": {"field": "x", "type": "quantitative"}, "y": {"field": "v", "type": "quantitative"},
           "color": {"field": "k", "type": "nominal", "scale": {"domain": ["s", "l"], "range": ["#0000ff", "#ff0000"]}, "legend": null}}},
        {"data": {"name": "gx"}, "mark": {"type": "rule", "color": "#262626", "strokeWidth": 1},
         "encoding": {"x": {"field": "g", "type": "quantitative"}, "y": {"datum": 7.5, "type": "quantitative"}, "y2": {"datum": 7.24}}},
        {"data": {"name": "gz"}, "mark": {"type": "rule", "color": "#262626", "strokeWidth": 1},
         "encoding": {"y": {"field": "g", "type": "quantitative"}, "x": {"datum": 500, "type": "quantitative"}, "x2": {"datum": 493}}},
        {"data": {"values": [{}]}, "mark": {"type": "rect", "fill": null, "stroke": "#262626", "strokeWidth": 1},
         "encoding": {"x": {"datum": 0, "type": "quantitative"}, "x2": {"datum": 500}, "y": {"datum": 0, "type": "quantitative"}, "y2": {"datum": 7.5}}}
      ]},
      {"layer": [
        {"data": {"name": "cbR"}, "transform": [{"window": [{"op": "lead", "field": "c", "param": 2, "as": "c2"}], "sort": [{"field": "c"}]}],
         "mark": {"type": "rect"},
         "encoding": {"x": {"datum": 0, "type": "quantitative", "scale": {"domain": [0, 1], "range": [392, 434]}, "axis": null}, "x2": {"datum": 1},
           "y": {"field": "c", "type": "quantitative", "scale": {"domain": [-4, 0], "nice": false, "zero": false},
             "axis": {"orient": "right", "values": [-4, -2, 0], "labelExpr": "datum.value > -1 ? '10⁰' : datum.value > -3 ? '10⁻²' : '10⁻⁴'", "title": null, "zindex": 1}},
           "y2": {"field": "c2"},
           "fill": {"field": "c", "type": "quantitative", "scale": {"domain": [-4, 0], "range": ["#ffffff", "#0000ff"], "interpolate": "rgb", "clamp": true}, "legend": null}}},
        {"data": {"values": [{}]}, "mark": {"type": "rect", "fill": null, "stroke": "#262626", "strokeWidth": 1},
         "encoding": {"x": {"datum": 0, "type": "quantitative"}, "x2": {"datum": 1}, "y": {"datum": -4, "type": "quantitative"}, "y2": {"datum": 0}}}
      ]}
     ]}
  ],
  "columns": 2,
  "spacing": {"row": 61, "column": 106},
  "bounds": "flush",
  "resolve": {"scale": {"fill": "independent", "stroke": "independent", "color": "independent"}}
}
